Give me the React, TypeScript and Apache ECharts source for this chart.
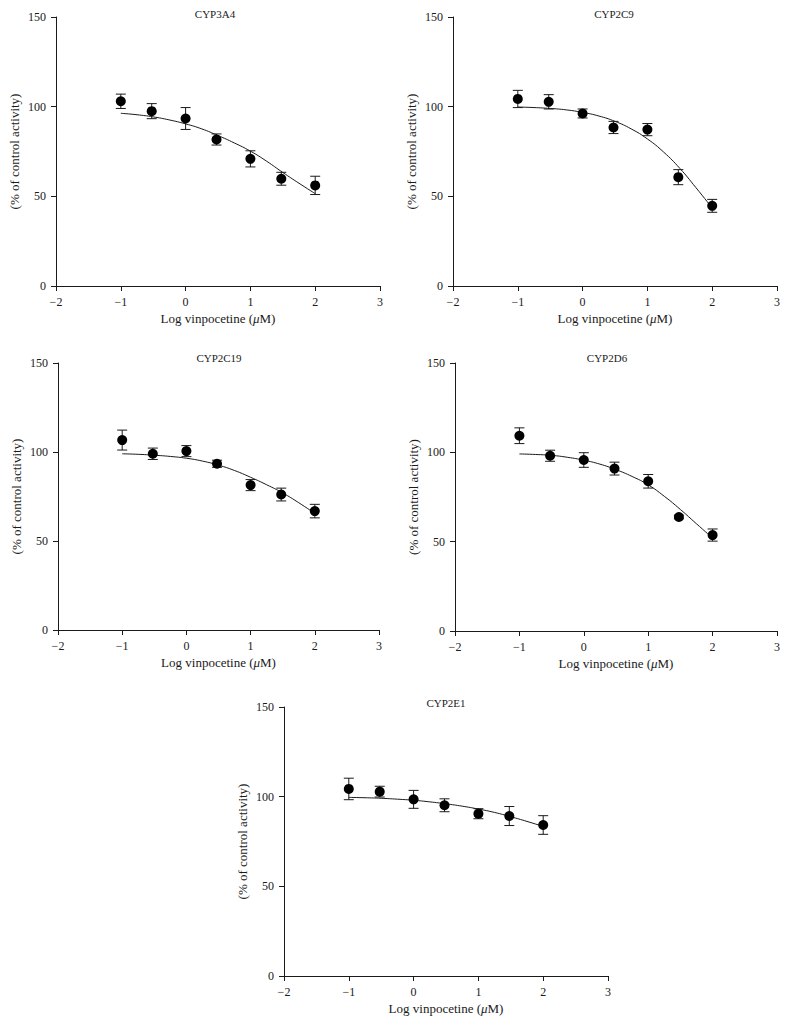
import React, { useEffect, useRef } from "react";
import * as echarts from "echarts";

const logConc: number[] = [-1, -0.523, 0, 0.477, 1, 1.477, 2];
const fitX: number[] = [-1, -0.75, -0.5, -0.25, 0, 0.25, 0.5, 0.75, 1, 1.25, 1.5, 1.75, 2];
const xTicks: number[] = [-2, -1, 0, 1, 2, 3];
const yTicks: number[] = [0, 50, 100, 150];

const titles: string[] = ["CYP3A4", "CYP2C9", "CYP2C19", "CYP2D6", "CYP2E1"];

const cyp3a4Mean: number[] = [103.0, 97.5, 93.4, 81.7, 70.9, 59.8, 56.1];
const cyp3a4Err: number[] = [4.0, 4.2, 6.1, 3.1, 4.5, 3.6, 5.1];
const cyp3a4Fit: number[] = [96.3, 95.5, 94.3, 92.6, 90.4, 87.6, 83.9, 79.8, 75.2, 69.6, 63.3, 57.3, 51.5];

const cyp2c9Mean: number[] = [104.3, 102.7, 96.2, 88.4, 87.2, 60.7, 44.7];
const cyp2c9Err: number[] = [4.8, 4.0, 2.5, 3.4, 3.4, 4.2, 3.6];
const cyp2c9Fit: number[] = [99.8, 99.5, 99.0, 98.2, 96.8, 94.8, 91.8, 87.6, 82.0, 74.7, 65.6, 54.8, 43.5];

const cyp2c19Mean: number[] = [106.7, 99.0, 100.5, 93.4, 81.4, 76.1, 66.8];
const cyp2c19Err: number[] = [5.6, 3.2, 3.1, 2.0, 3.1, 3.6, 3.8];
const cyp2c19Fit: number[] = [99.0, 98.7, 98.2, 97.5, 96.5, 94.9, 92.6, 89.6, 85.8, 81.6, 77.0, 71.5, 65.5];

const cyp2d6Mean: number[] = [109.3, 98.1, 95.7, 90.9, 83.8, 63.8, 53.7];
const cyp2d6Err: number[] = [4.4, 3.1, 4.1, 3.6, 3.8, 1.0, 3.4];
const cyp2d6Fit: number[] = [99.1, 98.8, 98.3, 97.2, 95.6, 93.4, 90.3, 86.5, 81.8, 75.4, 68.0, 60.0, 52.0];

const cyp2e1Mean: number[] = [104.3, 102.8, 98.5, 95.2, 90.5, 89.2, 84.2];
const cyp2e1Err: number[] = [6.0, 3.0, 5.0, 3.6, 2.8, 5.3, 5.2];
const cyp2e1Fit: number[] = [99.6, 99.4, 99.1, 98.6, 98.0, 97.1, 96.0, 94.7, 93.1, 91.2, 88.8, 86.2, 83.4];

const means = [cyp3a4Mean, cyp2c9Mean, cyp2c19Mean, cyp2d6Mean, cyp2e1Mean];
const errs = [cyp3a4Err, cyp2c9Err, cyp2c19Err, cyp2d6Err, cyp2e1Err];
const fits = [cyp3a4Fit, cyp2c9Fit, cyp2c19Fit, cyp2d6Fit, cyp2e1Fit];

const FONT = "Liberation Serif";
const INK = "#1a1a1a";

const grids = [
  { left: 56, top: 17, width: 324, height: 269 },
  { left: 453, top: 17, width: 324, height: 269 },
  { left: 58, top: 363, width: 321, height: 267 },
  { left: 455, top: 363, width: 322, height: 268 },
  { left: 284, top: 707, width: 324, height: 269 },
];
const titlePos = [
  { x: 215, y: 13.5 },
  { x: 614, y: 13.5 },
  { x: 219, y: 358 },
  { x: 607, y: 358 },
  { x: 446, y: 703 },
];

function fmt(v: number): string {
  return v < 0 ? "\u2212" + Math.abs(v) : String(v);
}

export default function App() {
  const ref = useRef<HTMLDivElement>(null);
  useEffect(() => {
    if (!ref.current) return;
    const chart = echarts.init(ref.current, undefined, { renderer: "svg" });

    const xAxis = grids.map((_, i) => ({
      type: "value",
      gridIndex: i,
      min: xTicks[0],
      max: xTicks[xTicks.length - 1],
      interval: 1,
      axisLine: { show: true, onZero: false, lineStyle: { color: INK, width: 1 } },
      axisTick: { show: true, length: 5, lineStyle: { color: INK } },
      axisLabel: { margin: 10, color: INK, fontFamily: FONT, fontSize: 12, formatter: fmt },
      splitLine: { show: false },
      name: "Log vinpocetine ({i|\u03bc}M)",
      nameLocation: "middle",
      nameGap: 26,
      nameTextStyle: {
        color: INK,
        fontFamily: FONT,
        fontSize: 13,
        rich: { i: { fontStyle: "italic", fontFamily: FONT, fontSize: 13, color: INK } },
      },
    }));
    const yAxis = grids.map((_, i) => ({
      type: "value",
      gridIndex: i,
      min: yTicks[0],
      max: yTicks[yTicks.length - 1],
      interval: 50,
      axisLine: { show: true, onZero: false, lineStyle: { color: INK, width: 1 } },
      axisTick: { show: true, length: 5, lineStyle: { color: INK } },
      axisLabel: { margin: 10, color: INK, fontFamily: FONT, fontSize: 12 },
      splitLine: { show: false },
      name: "(% of control activity)",
      nameLocation: "middle",
      nameGap: 35,
      nameTextStyle: { color: INK, fontFamily: FONT, fontSize: 13 },
    }));

    const series: any[] = [];
    grids.forEach((_, i) => {
      series.push({
        type: "line",
        xAxisIndex: i,
        yAxisIndex: i,
        data: fitX.map((x, k) => [x, fits[i][k]]),
        smooth: true,
        showSymbol: false,
        symbol: "none",
        lineStyle: { color: INK, width: 1 },
        z: 2,
      });
      series.push({
        type: "custom",
        xAxisIndex: i,
        yAxisIndex: i,
        data: logConc.map((x, k) => [x, means[i][k] - errs[i][k], means[i][k] + errs[i][k]]),
        renderItem: (params: any, api: any) => {
          const lo = api.coord([api.value(0), api.value(1)]);
          const hi = api.coord([api.value(0), api.value(2)]);
          const hw = 5;
          const st = { stroke: INK, lineWidth: 1 };
          return {
            type: "group",
            children: [
              { type: "line", shape: { x1: lo[0], y1: lo[1], x2: hi[0], y2: hi[1] }, style: st },
              { type: "line", shape: { x1: lo[0] - hw, y1: lo[1], x2: lo[0] + hw, y2: lo[1] }, style: st },
              { type: "line", shape: { x1: hi[0] - hw, y1: hi[1], x2: hi[0] + hw, y2: hi[1] }, style: st },
            ],
          };
        },
        z: 3,
      });
      series.push({
        type: "scatter",
        xAxisIndex: i,
        yAxisIndex: i,
        data: logConc.map((x, k) => [x, means[i][k]]),
        symbol: "circle",
        symbolSize: 10,
        itemStyle: { color: "#000", opacity: 1 },
        z: 4,
      });
    });

    chart.setOption({
      animation: false,
      backgroundColor: "#fff",
      grid: grids.map((g) => ({ ...g, containLabel: false })),
      xAxis,
      yAxis,
      series,
      graphic: titles.map((t, i) => ({
        type: "text",
        x: titlePos[i].x,
        y: titlePos[i].y,
        style: {
          text: t,
          fill: INK,
          fontFamily: FONT,
          fontSize: 11,
          align: "center",
          verticalAlign: "middle",
        },
      })),
    });
    return () => chart.dispose();
  }, []);
  return (
    <div
      ref={ref}
      style={{ position: "absolute", left: 0, top: 0, width: 788, height: 1027 }}
    />
  );
}
